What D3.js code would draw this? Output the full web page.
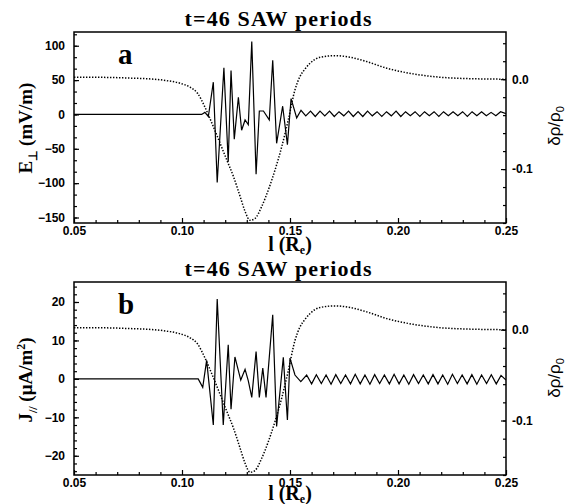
<!DOCTYPE html>
<html>
<head>
<meta charset="utf-8">
<script src="https://cdn.jsdelivr.net/npm/d3@7"></script>
<style>
  html, body { margin: 0; padding: 0; background: #fff; }
  svg { display: block; }
  .tick text { font-family: "Liberation Sans", Arial, sans-serif; font-weight: bold; font-size: 12px; fill: #000; }
  .tick line { stroke: #000; stroke-width: 1.2; }
  .serif { font-family: "Liberation Serif", "Times New Roman", serif; font-weight: bold; fill: #000; }
</style>
</head>
<body>
<svg id="chart" width="570" height="504"></svg>
<script>
// ---------------- data ----------------
const titleText = "t=46 SAW periods";
const panelLetters = ["a", "b"];

const lTicks = [0.05, 0.10, 0.15, 0.20, 0.25];
const lTickLabels = ["0.05", "0.10", "0.15", "0.20", "0.25"];
const eTicks = [-150, -100, -50, 0, 50, 100];
const jTicks = [-20, -10, 0, 10, 20];
const rhoTicks = [0.0, -0.1];
const rhoTickLabels = ["0.0", "-0.1"];

// density perturbation (dotted), same in both panels
const densL = [0.050, 0.065, 0.0773, 0.086, 0.0929, 0.0991, 0.1037, 0.1072, 0.1106, 0.1145, 0.1176, 0.1207,
  0.1238, 0.1269, 0.1292, 0.1315, 0.1338, 0.1369, 0.1400, 0.1431, 0.1462, 0.1492, 0.1523, 0.1546, 0.1570,
  0.1593, 0.1639, 0.1708, 0.1778, 0.1855, 0.1948, 0.2071, 0.2194, 0.2318, 0.250];
const densV = [0.0022, 0.0020, 0.0011, 0.0002, -0.0016, -0.0045, -0.0089, -0.0156, -0.0310, -0.0527, -0.0711, -0.0897,
  -0.1082, -0.1304, -0.1471, -0.1570, -0.1550, -0.1416, -0.1230, -0.1008, -0.0749, -0.0452, -0.0119, 0.0029, 0.0115,
  0.0178, 0.0244, 0.0262, 0.0244, 0.0196, 0.0122, 0.0059, 0.0022, 0.0007, 0.0000];

// E_perp (mV/m), panel a
const eL = [0.050, 0.100, 0.1091, 0.1106, 0.1122, 0.1145, 0.1163, 0.1194, 0.1214, 0.1227, 0.1242, 0.1261,
  0.1276, 0.1292, 0.1307, 0.1323, 0.1343, 0.1358, 0.1377, 0.1404, 0.1420, 0.1438, 0.1466, 0.1488, 0.1505, 0.1531,
  0.1551, 0.1573, 0.1595, 0.1617, 0.1639, 0.1661, 0.1683, 0.1705, 0.1727, 0.1749, 0.1771, 0.1793, 0.1815, 0.1837,
  0.1859, 0.1881, 0.1903, 0.1925, 0.1947, 0.1969, 0.1991, 0.2013, 0.2035, 0.2057, 0.2079, 0.2101, 0.2123, 0.2145,
  0.2167, 0.2189, 0.2211, 0.2233, 0.2255, 0.2277, 0.2299, 0.2321, 0.2343, 0.2365, 0.2387, 0.2409, 0.2431, 0.2453,
  0.2475, 0.2500];
const eV = [0, 0, 0, 3, -3, 47, -99, 68, -69, 64, -36, 25,
  -23, -8, -15, 106, -87, 5, 5, -8, 79, -42, 12, -44, 23, -5,
  6, -2, 5, -3, 5, -2, 5, -3, 4, -2, 5, -3, 4, -3,
  5, -2, 4, -3, 4, -2, 5, -3, 4, -2, 4, -3, 4, -2,
  4, -3, 4, -2, 4, -2, 4, -3, 4, -2, 4, -2, 3, -2,
  4, 1];

// J_par (uA/m^2), panel b
const jL = [0.050, 0.1075, 0.1096, 0.1114, 0.1145, 0.1163, 0.1191, 0.1214, 0.1227, 0.1245, 0.1272, 0.1292,
  0.1307, 0.1323, 0.1343, 0.1358, 0.1374, 0.1389, 0.1420, 0.1438, 0.1469, 0.1488, 0.1500, 0.1523, 0.1550,
  0.1577, 0.1600, 0.1622, 0.1645, 0.1667, 0.1690, 0.1712, 0.1735, 0.1757, 0.1780, 0.1802, 0.1825, 0.1847, 0.1870,
  0.1892, 0.1915, 0.1937, 0.1960, 0.1982, 0.2005, 0.2027, 0.2050, 0.2072, 0.2095, 0.2117, 0.2140, 0.2162, 0.2185,
  0.2207, 0.2230, 0.2252, 0.2275, 0.2297, 0.2320, 0.2342, 0.2365, 0.2387, 0.2410, 0.2432, 0.2455, 0.2477, 0.2500];
const jV = [0, 0, -2.2, 4.8, -12, 20.8, -12, 8.9, -7.9, 5.7, -0.3, 2.5,
  -0.5, -4.8, 7.1, -4.8, 2.8, -4.8, 16.7, -12.4, 5.6, -10.7, 5.4, 1.0, -0.7,
  1.0, -1.3, 1.1, -1.2, 1.0, -1.4, 1.1, -1.2, 1.0, -1.3, 1.2, -1.3, 1.0, -1.4,
  1.1, -1.2, 1.0, -1.3, 1.2, -1.3, 1.0, -1.4, 1.1, -1.2, 1.0, -1.3, 1.1, -1.3,
  1.0, -1.4, 1.2, -1.2, 1.0, -1.3, 1.1, -1.4, 1.0, -1.2, 1.1, -1.3, 0.9, -0.3];

// ---------------- drawing ----------------
const svg = d3.select("#chart");
const X0 = 74, X1 = 506;

const panels = [
  { top: 32, bottom: 223, yDomain: [-158, 120], yTicks: eTicks, minorStep: 50 / 3,
    L: eL, V: eV, letter: panelLetters[0], label: "E", labelSub: "\u22A5", labelRest: " (mV/m)", sup: null,
    yLabelC: 128, rLabelC: 126, xLabelDy: 28 },
  { top: 282, bottom: 475, yDomain: [-25, 25.2], yTicks: jTicks, minorStep: 2,
    L: jL, V: jV, letter: panelLetters[1], label: "J", labelSub: "//", labelRest: " (\u03BCA/m", sup: "2",
    yLabelC: 380, rLabelC: 378, xLabelDy: 25 }
];

panels.forEach((p, i) => {
  const g = svg.append("g");
  const x = d3.scaleLinear().domain([0.05, 0.25]).range([X0, X1]);
  const y = d3.scaleLinear().domain(p.yDomain).range([p.bottom, p.top]);
  const yr = d3.scaleLinear().domain([-0.16, 0.0525]).range([p.bottom, p.top]);
  const H = p.bottom - p.top;

  const clipId = "clip" + i;
  svg.append("clipPath").attr("id", clipId).append("rect")
    .attr("x", X0).attr("y", p.top).attr("width", X1 - X0).attr("height", H);

  // minor ticks
  const xMinor = d3.range(0.05, 0.2501, 0.01).filter(v => Math.abs(v * 20 - Math.round(v * 20)) > 1e-6);
  g.append("g").attr("transform", `translate(0,${p.bottom})`)
    .call(d3.axisBottom(x).tickValues(xMinor).tickSizeInner(-3).tickSizeOuter(0).tickFormat(""))
    .call(s => s.select(".domain").remove());
  const yMin2 = [];
  for (let v = 0; v <= p.yDomain[1]; v += p.minorStep) yMin2.push(v);
  for (let v = -p.minorStep; v >= p.yDomain[0]; v -= p.minorStep) yMin2.push(v);
  g.append("g").attr("transform", `translate(${X0},0)`)
    .call(d3.axisLeft(y).tickValues(yMin2).tickSizeInner(-3).tickSizeOuter(0).tickFormat(""))
    .call(s => s.select(".domain").remove());
  const rMinor = [];
  for (let v = 0.04; v >= -0.16; v -= 0.02) rMinor.push(Math.round(v * 100) / 100);
  g.append("g").attr("transform", `translate(${X1},0)`)
    .call(d3.axisRight(yr).tickValues(rMinor).tickSizeInner(-3).tickSizeOuter(0).tickFormat(""))
    .call(s => s.select(".domain").remove());

  // major ticks with labels
  g.append("g").attr("transform", `translate(0,${p.bottom})`)
    .call(d3.axisBottom(x).tickValues(lTicks).tickSizeInner(-5).tickSizeOuter(0).tickPadding(3)
      .tickFormat((d, k) => lTickLabels[k]))
    .call(s => s.select(".domain").remove());
  g.append("g").attr("transform", `translate(${X0},0)`)
    .call(d3.axisLeft(y).tickValues(p.yTicks).tickSizeInner(-5).tickSizeOuter(0).tickPadding(9)
      .tickFormat(d3.format("d")))
    .call(s => s.select(".domain").remove());
  g.append("g").attr("transform", `translate(${X1},0)`)
    .call(d3.axisRight(yr).tickValues(rhoTicks).tickSizeInner(-5).tickSizeOuter(0).tickPadding(6)
      .tickFormat((d, k) => rhoTickLabels[k]))
    .call(s => s.select(".domain").remove());

  // frame
  g.append("rect").attr("x", X0).attr("y", p.top).attr("width", X1 - X0).attr("height", H)
    .attr("fill", "none").attr("stroke", "#000").attr("stroke-width", 1.5);

  // density (dotted)
  const dens = densL.map((l, k) => [l, densV[k]]);
  g.append("path").datum(dens)
    .attr("clip-path", `url(#${clipId})`)
    .attr("fill", "none").attr("stroke", "#000").attr("stroke-width", 1.5)
    .attr("stroke-dasharray", "1.4 1.6")
    .attr("d", d3.line().x(d => x(d[0])).y(d => yr(d[1])).curve(d3.curveMonotoneX));

  // field (solid)
  const fld = p.L.map((l, k) => [l, p.V[k]]);
  g.append("path").datum(fld)
    .attr("clip-path", `url(#${clipId})`)
    .attr("fill", "none").attr("stroke", "#000").attr("stroke-width", 1.2)
    .attr("stroke-linejoin", "miter")
    .attr("d", d3.line().x(d => x(d[0])).y(d => y(d[1])));

  // title
  g.append("text").attr("class", "serif").attr("x", 278).attr("y", p.top - 6)
    .attr("text-anchor", "middle").style("font-size", "22px")
    .attr("textLength", 187).attr("lengthAdjust", "spacing")
    .text(titleText);

  // panel letter
  g.append("text").attr("class", "serif").attr("x", 118).attr("y", p.top + 32)
    .style("font-size", "29px").text(p.letter);

  // x label
  const xl = g.append("text").attr("class", "serif").attr("x", 290).attr("y", p.bottom + p.xLabelDy)
    .attr("text-anchor", "middle").style("font-size", "20px");
  xl.append("tspan").text("l (R");
  xl.append("tspan").attr("dy", 3).style("font-size", "12px").text("e");
  xl.append("tspan").attr("dy", -3).text(")");

  // left y label
  const yl = g.append("text").attr("class", "serif")
    .attr("transform", `translate(32,${p.yLabelC}) rotate(-90)`)
    .attr("text-anchor", "middle").style("font-size", "19px");
  yl.append("tspan").text(p.label);
  yl.append("tspan").attr("dy", 5).style("font-size", "12px").text(p.labelSub);
  yl.append("tspan").attr("dy", -5).text(p.labelRest);
  if (p.sup) {
    yl.append("tspan").attr("dy", -7).style("font-size", "12px").text(p.sup);
    yl.append("tspan").attr("dy", 7).text(")");
  }

  // right y label
  const rl = g.append("text")
    .attr("transform", `translate(560,${p.rLabelC}) rotate(-90)`)
    .attr("text-anchor", "middle")
    .style("font-family", "'Liberation Sans', Arial, sans-serif").style("font-size", "17px");
  rl.append("tspan").text("\u03B4\u03C1/\u03C1");
  rl.append("tspan").attr("dy", 4).style("font-size", "11px").text("0");
});
</script>
</body>
</html>
